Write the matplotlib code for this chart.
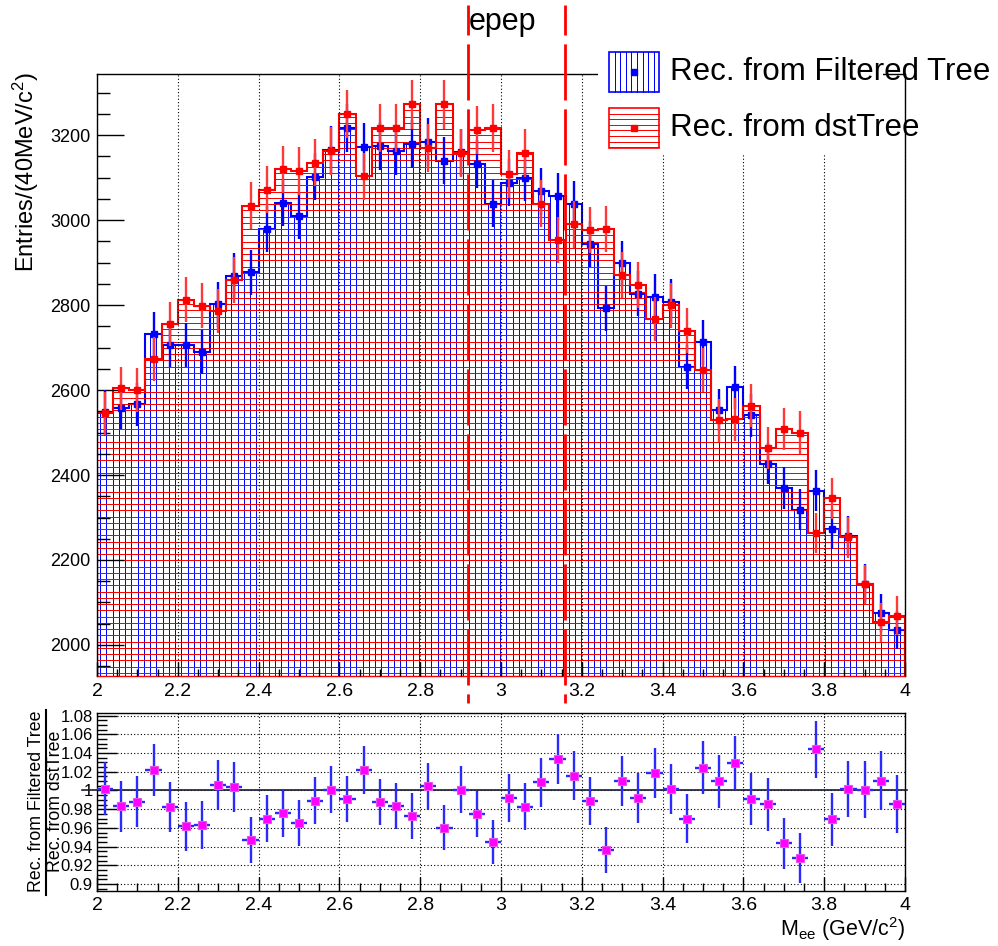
import numpy as np
import matplotlib
matplotlib.use('Agg')
import matplotlib.pyplot as plt
import matplotlib.transforms as mtrans
from matplotlib.patches import Polygon, Rectangle
from matplotlib.collections import LineCollection
from matplotlib.lines import Line2D
from matplotlib.ticker import MultipleLocator, FuncFormatter

plt.rcParams['font.family'] = ['Liberation Sans', 'DejaVu Sans']
plt.rcParams['mathtext.fontset'] = 'custom'
plt.rcParams['mathtext.rm'] = 'Liberation Sans'
plt.rcParams['mathtext.it'] = 'Liberation Sans:italic'

# M_ee binning, 40 MeV bins from 2 to 4 GeV
edges = np.round(np.arange(2.0, 4.0 + 1e-9, 0.04), 2)
centers = 0.5 * (edges[:-1] + edges[1:])

# entries per bin
filtered = [2549, 2558, 2566, 2731, 2706, 2706, 2690, 2802, 2869, 2877,
            2979, 3041, 3010, 3102, 3165, 3217, 3171, 3174, 3162, 3180,
            3183, 3140, 3159, 3132, 3038, 3088, 3100, 3068, 3056, 3037,
            2943, 2792, 2898, 2827, 2820, 2808, 2655, 2712, 2553, 2606,
            2541, 2427, 2369, 2318, 2363, 2273, 2256, 2144, 2075, 2035]
dst = [2545, 2604, 2600, 2673, 2755, 2812, 2798, 2786, 2859, 3034,
       3071, 3119, 3115, 3135, 3163, 3249, 3103, 3217, 3217, 3272,
       3169, 3272, 3157, 3212, 3217, 3108, 3157, 3038, 2953, 2990,
       2976, 2979, 2871, 2847, 2767, 2800, 2740, 2647, 2529, 2531,
       2563, 2463, 2508, 2500, 2263, 2345, 2253, 2143, 2053, 2069]
# filtered / dst
ratio = [1.002, 0.983, 0.988, 1.022, 0.982, 0.9615, 0.963, 1.006, 1.0036, 0.9475,
         0.970, 0.9755, 0.9655, 0.989, 1.0007, 0.9906, 1.0216, 0.988, 0.9835, 0.9727,
         1.0047, 0.960, 1.0007, 0.975, 0.945, 0.992, 0.9827, 1.0086, 1.034, 1.016,
         0.989, 0.9363, 1.0104, 0.992, 1.0187, 1.002, 0.970, 1.0245, 1.010, 1.0295,
         0.9906, 0.9853, 0.9435, 0.928, 1.044, 0.969, 1.002, 1.0007, 1.0104, 0.9853]

cut_lo, cut_hi = 2.918, 3.158

filtered = np.array(filtered, float)
dst = np.array(dst, float)
ratio = np.array(ratio)
err_f = np.sqrt(filtered)
err_d = np.sqrt(dst)
err_r = ratio * np.sqrt(1.0 / filtered + 1.0 / dst)

W, H = 998, 946
def fx(px):
    return px / W
def fy(py):
    return 1 - py / H

fig = plt.figure(figsize=(W / 100, H / 100), dpi=100)
ax = fig.add_axes([fx(97), fy(676), 808 / W, (676 - 74.3) / H])
ax2 = fig.add_axes([fx(97), fy(891), 808 / W, (891 - 712.7) / H])

HATCH_PX = 6.25
HATCH_LW = 0.5

def hatched_hist(ax, counts, color, vertical, z):
    xs = np.repeat(edges, 2)
    ys = np.concatenate([[0], np.repeat(counts, 2), [0]])
    poly = Polygon(np.column_stack([xs, ys]), closed=True, fill=False,
                   edgecolor=color, lw=1.5, zorder=z + 0.05)
    ax.add_patch(poly)
    bb = ax.get_position()
    if vertical:
        npx = bb.width * W
        fr = np.arange(HATCH_PX / 2, npx, HATCH_PX) / npx
        segs = [[(f, 0), (f, 1)] for f in fr]
    else:
        npx = bb.height * H
        fr = np.arange(HATCH_PX / 2, npx, HATCH_PX) / npx
        segs = [[(0, f), (1, f)] for f in fr]
    lc = LineCollection(segs, colors=color, linewidths=HATCH_LW, antialiaseds=False,
                        transform=ax.transAxes, zorder=z)
    ax.add_collection(lc, autolim=False)
    lc.set_clip_path(poly)

hatched_hist(ax, filtered, '#0000ff', True, 1.0)
hatched_hist(ax, dst, '#ff0000', False, 1.2)

ax.errorbar(centers, filtered, yerr=err_f, fmt='s', ms=4.6, color='#0000ff',
            elinewidth=1.7, capsize=0, zorder=3)
ax.errorbar(centers, dst, yerr=err_d, fmt='s', ms=5.0, color='#ff0000',
            ecolor='#ff3838', elinewidth=1.7, capsize=0, zorder=3.1)

ax.set_xlim(2, 4)
ax.set_ylim(1927, 3343)
ax.set_axisbelow(False)
ax.xaxis.set_major_locator(MultipleLocator(0.2))
ax.xaxis.set_minor_locator(MultipleLocator(0.05))
ax.yaxis.set_major_locator(MultipleLocator(200))
ax.yaxis.set_minor_locator(MultipleLocator(50))
fmt = FuncFormatter(lambda v, p: '%g' % round(v, 3))
ax.xaxis.set_major_formatter(fmt)
ax.tick_params(which='both', direction='in', top=False, right=False, width=1.0)
ax.tick_params(axis='y', which='major', length=19.4, labelsize=13, pad=4.5)
ax.tick_params(axis='y', which='minor', length=9.4)
ax.tick_params(axis='x', which='major', length=10, labelsize=14, pad=5)
ax.tick_params(axis='x', which='minor', length=5)
ax.grid(True, axis='x', which='major', color='k', lw=0.8, ls=(0, (1, 2)))
for s in ax.spines.values():
    s.set_linewidth(1.0)
ax.spines['bottom'].set_color('#ff0000')

# ratio pad
ax2.errorbar(centers, ratio, xerr=0.02, yerr=err_r, fmt='s', ms=6,
             mfc='#ff00ff', mec='#e850e8', mew=0.8, ecolor='#2a2aff',
             elinewidth=1.7, capsize=0, zorder=3)
ax2.plot([1.963, 4.005], [1, 1], color='#1a1a33', lw=1.2, clip_on=False, zorder=2.8)
ax2.set_xlim(2, 4)
ax2.set_ylim(0.8925, 1.0832)
ax2.set_axisbelow(False)
ax2.xaxis.set_major_locator(MultipleLocator(0.2))
ax2.xaxis.set_minor_locator(MultipleLocator(0.05))
ax2.yaxis.set_major_locator(MultipleLocator(0.02))
ax2.yaxis.set_minor_locator(MultipleLocator(0.005))
ax2.xaxis.set_major_formatter(fmt)
ax2.yaxis.set_major_formatter(fmt)
ax2.tick_params(which='both', direction='in', top=False, right=False, width=1.0)
ax2.tick_params(axis='y', which='major', length=14.4, labelsize=12, pad=3)
ax2.tick_params(axis='y', which='minor', length=7.2)
ax2.tick_params(axis='x', which='major', length=10, labelsize=14, pad=4)
ax2.tick_params(axis='x', which='minor', length=5.5)
ax2.grid(True, which='major', color='k', lw=0.8, ls=(0, (1, 2)))
for s in ax2.spines.values():
    s.set_linewidth(1.0)

# axis titles
fig.text(fx(26), fy(72), r'Entries/(40MeV/c$^{2}$)', rotation=90,
         ha='center', va='top', fontsize=17)
fig.text(fx(905), fy(929), r'M$_{\rm ee}$ (GeV/c$^{2}$)', ha='right',
         va='center', fontsize=15.5)
fig.text(fx(36.5), fy(801), 'Rec. from Filtered Tree', rotation=90,
         ha='center', va='center', fontsize=12.8)
fig.text(fx(55), fy(801), 'Rec. from dstTree', rotation=90,
         ha='center', va='center', fontsize=12.8)
fig.add_artist(Line2D([fx(45.7)] * 2, [fy(710), fy(895)], color='k', lw=1.5))

# J/psi window lines
bt = mtrans.blended_transform_factory(ax.transData, fig.transFigure)
for xc in (cut_lo, cut_hi):
    ax.plot([xc, xc], [fy(5), fy(703)], transform=bt, color='#ff0000', lw=2.0,
            ls=(9.4, (20.2, 3.2)), clip_on=False, zorder=6)
fig.text(fx(469), fy(22), 'epep', ha='left', va='center', fontsize=22)

# legend
fig.add_artist(Rectangle((fx(598), fy(155)), 285 / W, 120 / H,
                         transform=fig.transFigure, fc='white', ec='none', zorder=10))
def legend_box(y0, y1, color, vertical, label):
    x0, x1 = 609, 659
    fig.add_artist(Rectangle((fx(x0), fy(y1)), (x1 - x0) / W, (y1 - y0) / H,
                             transform=fig.transFigure, fc='none', ec=color,
                             lw=1.2, zorder=11))
    if vertical:
        segs = [[(fx(p), fy(y0)), (fx(p), fy(y1))] for p in np.arange(x0 + 5.6, x1, 5.6)]
    else:
        segs = [[(fx(x0), fy(p)), (fx(x1), fy(p))] for p in np.arange(y0 + 5.6, y1, 5.6)]
    fig.add_artist(LineCollection(segs, colors=color, linewidths=HATCH_LW,
                                  antialiaseds=False,
                                  transform=fig.transFigure, zorder=11))
    yc = 0.5 * (y0 + y1)
    fig.add_artist(Line2D([fx(634)], [fy(yc)], marker='s', ms=4.5, color=color,
                          zorder=12))
    fig.text(fx(670), fy(yc), label, ha='left', va='center', fontsize=22.5, zorder=12)

legend_box(52, 92, '#0000ff', True, 'Rec. from Filtered Tree')
legend_box(108, 148, '#ff0000', False, 'Rec. from dstTree')

fig.savefig('out.png', dpi=100)
